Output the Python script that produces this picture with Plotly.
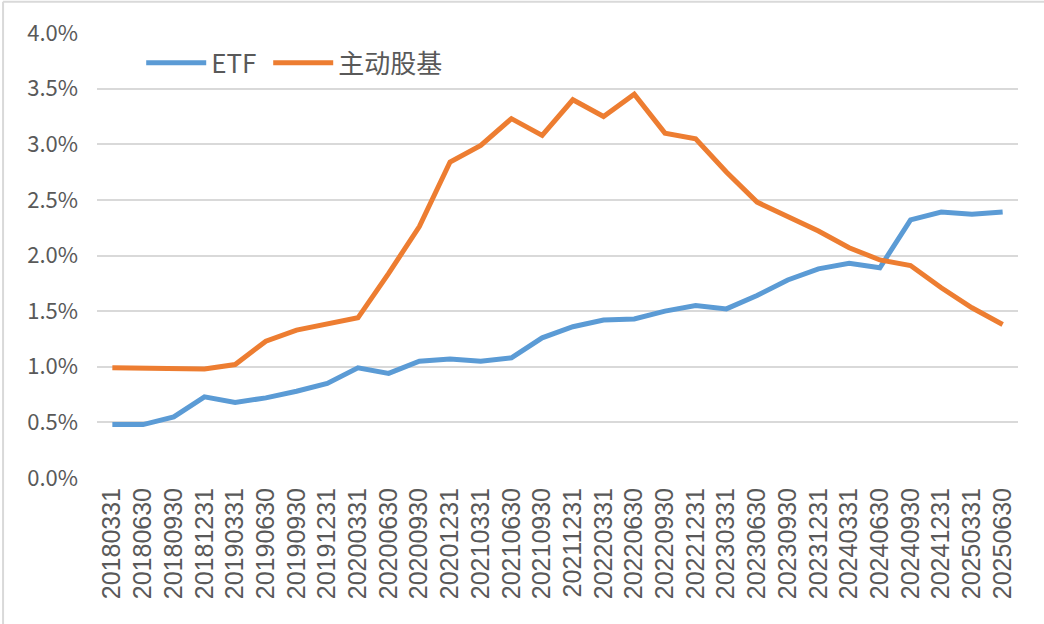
import plotly.graph_objects as go

dates = ["20180331", "20180630", "20180930", "20181231", "20190331", "20190630",
         "20190930", "20191231", "20200331", "20200630", "20200930", "20201231",
         "20210331", "20210630", "20210930", "20211231", "20220331", "20220630",
         "20220930", "20221231", "20230331", "20230630", "20230930", "20231231",
         "20240331", "20240630", "20240930", "20241231", "20250331", "20250630"]

etf = [0.48, 0.48, 0.55, 0.73, 0.68, 0.72, 0.78, 0.85, 0.99, 0.94,
       1.05, 1.07, 1.05, 1.08, 1.26, 1.36, 1.42, 1.43, 1.50, 1.55,
       1.52, 1.64, 1.78, 1.88, 1.93, 1.89, 2.32, 2.39, 2.37, 2.39]

active = [0.99, 0.99, 0.98, 0.98, 1.02, 1.23, 1.33, 1.39, 1.44, 1.84,
          2.26, 2.84, 2.99, 3.23, 3.08, 3.40, 3.25, 3.45, 3.10, 3.05,
          2.75, 2.48, 2.35, 2.22, 2.07, 1.96, 1.91, 1.71, 1.53, 1.38]

series_names = ["ETF", "主动股基"]
y_ticks = [0.0, 0.5, 1.0, 1.5, 2.0, 2.5, 3.0, 3.5, 4.0]

FONT = "Liberation Sans Narrow, Arial Narrow, Noto Sans CJK SC, Liberation Sans, sans-serif"
GREY = "#595959"
GRID = "#D9D9D9"

fig = go.Figure()
fig.add_trace(go.Scatter(x=dates, y=etf, name=series_names[0], mode="lines",
                         legendwidth=52,
                         line=dict(color="#5B9BD5", width=5)))
fig.add_trace(go.Scatter(x=dates, y=active, name=series_names[1], mode="lines",
                         line=dict(color="#ED7D31", width=5)))

fig.update_layout(
    width=1044, height=624,
    margin=dict(l=97, r=26, t=33, b=146, pad=0),
    paper_bgcolor="white", plot_bgcolor="white",
    font=dict(family=FONT, color=GREY, size=22),
    showlegend=True,
    legend=dict(orientation="h", x=0.048, y=0.933, xanchor="left", yanchor="middle",
                font=dict(family=FONT, size=26, color=GREY),
                bgcolor="rgba(0,0,0,0)", itemwidth=60, tracegroupgap=0),
    xaxis=dict(type="category", tickangle=-90, showgrid=False, zeroline=False,
               showline=False, ticks="", range=[-0.5, len(dates) - 0.5],
               tickfont=dict(family="Liberation Sans, Arial, sans-serif", size=25, color=GREY),
               ticklabelstandoff=4),
    yaxis=dict(range=[0, 4.0], tickvals=y_ticks, ticktext=[f"{v:.1f}%" for v in y_ticks],
               showgrid=True, gridcolor=GRID, gridwidth=1.5, zeroline=False,
               showline=False, ticks="", tickfont=dict(family=FONT, size=22, color=GREY),
               ticklabelstandoff=18),
    shapes=[
        dict(type="line", xref="paper", yref="paper", x0=-0.102, x1=-0.102, y0=-0.5, y1=1.07,
             line=dict(color=GRID, width=2)),
        dict(type="line", xref="paper", yref="paper", x0=-0.102, x1=1.1, y0=1.07, y1=1.07,
             line=dict(color=GRID, width=2)),
    ],
)

fig.write_html("out.html", config={"displayModeBar": False},
               post_script="document.body.style.margin='0px';")
